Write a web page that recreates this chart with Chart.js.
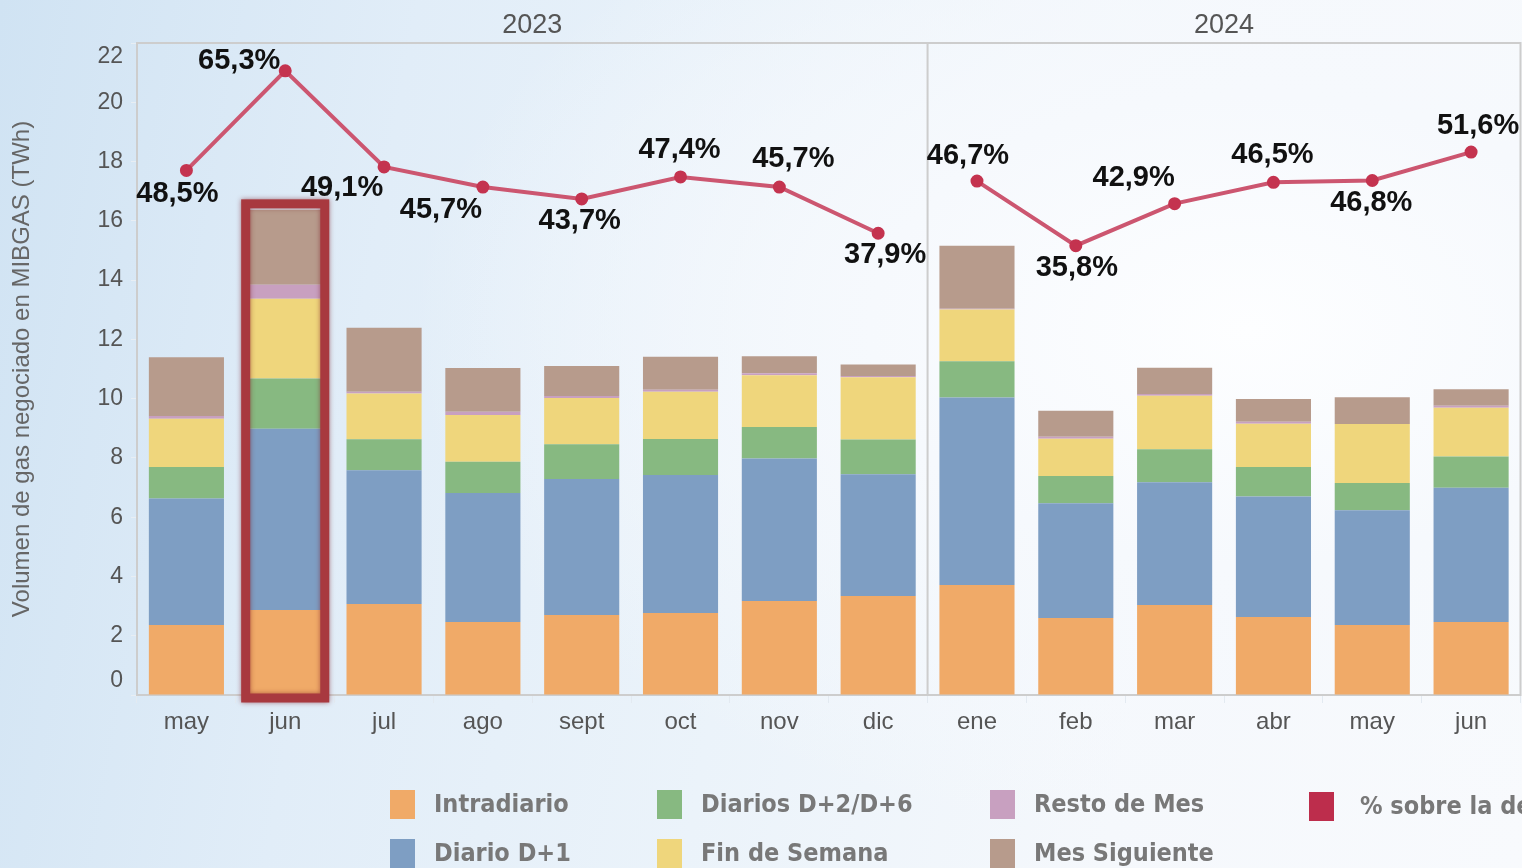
<!DOCTYPE html>
<html lang="es">
<head>
<meta charset="utf-8">
<title>Volumen negociado en MIBGAS</title>
<script src="https://cdn.jsdelivr.net/npm/chart.js@4.4.1/dist/chart.umd.min.js"></script>
<style>
  html, body { margin: 0; padding: 0; width: 1522px; height: 868px; overflow: hidden; }
  body {
    position: relative;
    background:
      radial-gradient(ellipse 55% 60% at 82% 38%, #fdfeff 0%, #f6f9fd 45%, rgba(240,246,252,0) 100%),
      linear-gradient(100deg, #d0e3f3 0%, #e1edf8 25%, #ebf3fa 50%, #f5f8fc 75%, #f8fafd 100%);
  }
  #grafico { position: absolute; left: 0; top: 0; }
  .leyenda { position: absolute; font-family: "DejaVu Sans Condensed", "DejaVu Sans", sans-serif;
             font-weight: bold; font-size: 25px; color: #787878; white-space: nowrap; }
  .leyenda span.cuadro { position: absolute; left: 0; width: 25px; height: 29px; }
  .leyenda span.texto { position: absolute; top: -1px; }
</style>
</head>
<body>
<!-- el lienzo es algo más ancho que la ventana: el gráfico original queda cortado a la derecha -->
<canvas id="grafico" width="1529" height="868"></canvas>
<div id="leyenda"></div>
<script>
// datos (TWh y %)
var meses = ['may', 'jun', 'jul', 'ago', 'sept', 'oct', 'nov', 'dic', 'ene', 'feb', 'mar', 'abr', 'may', 'jun'];
var intradiario  = [2.36, 2.87, 3.07, 2.46, 2.70, 2.77, 3.17, 3.34, 3.71, 2.60, 3.04, 2.63, 2.36, 2.46];
var diarioD1     = [4.27, 6.11, 4.51, 4.36, 4.59, 4.65, 4.81, 4.11, 6.33, 3.87, 4.14, 4.07, 3.87, 4.53];
var diariosD2D6  = [1.06, 1.70, 1.05, 1.05, 1.17, 1.22, 1.06, 1.17, 1.22, 0.92, 1.11, 0.99, 0.92, 1.06];
var finDeSemana  = [1.63, 2.69, 1.54, 1.58, 1.56, 1.59, 1.75, 2.10, 1.75, 1.26, 1.81, 1.46, 1.99, 1.64];
var restoDeMes   = [0.09, 0.47, 0.06, 0.11, 0.07, 0.07, 0.07, 0.04, 0.02, 0.06, 0.06, 0.07, 0.00, 0.07];
var mesSiguiente = [1.99, 2.53, 2.16, 1.47, 1.01, 1.11, 0.57, 0.39, 2.13, 0.88, 0.88, 0.77, 0.91, 0.56];
var porcentaje   = [48.5, 65.3, 49.1, 45.7, 43.7, 47.4, 45.7, 37.9, 46.7, 35.8, 42.9, 46.5, 46.8, 51.6];
var ticksY = [0, 2, 4, 6, 8, 10, 12, 14, 16, 18, 20, 22];
var anios = [{ texto: '2023', desde: 0, hasta: 7 }, { texto: '2024', desde: 8, hasta: 13 }];
var mesDestacado = 1;

// donde va cada etiqueta de % respecto a su punto
var posEtiquetas = [[-9, 24], [-46, -10], [-42, 21], [-42, 23], [-2, 22], [-1, -27], [14, -28],
                    [7, 22], [-9, -25], [1, 22], [-41, -26], [-1, -27], [-1, 22], [7, -26]];

var colores = {
    intradiario: '#f0aa68',
    d1: '#7e9ec3',
    d2: '#87b981',
    finde: '#efd67c',
    resto: '#c8a0c0',
    siguiente: '#b79b8c',
    linea: '#cc5670',
    punto: '#c4334f'
};

var gris = '#555';

function serieBarra(nombre, datos, color) {
    return {
        type: 'bar', label: nombre, data: datos, backgroundColor: color,
        yAxisID: 'y', stack: 'vol', order: 1,
        categoryPercentage: 1, barPercentage: 0.76
    };
}

var dibujos = {
    id: 'dibujos',
    beforeDatasetsDraw: function (chart) {
        var ctx = chart.ctx, a = chart.chartArea, x = chart.scales.x, y = chart.scales.y;
        ctx.save();
        ctx.strokeStyle = '#cdcdcd';
        ctx.lineWidth = 2;
        ctx.strokeRect(a.left, a.top, a.right - a.left, a.bottom - a.top);
        // separación entre años
        var medio = (x.getPixelForValue(7) + x.getPixelForValue(8)) / 2;
        ctx.beginPath();
        ctx.moveTo(medio, a.top);
        ctx.lineTo(medio, a.bottom);
        ctx.stroke();
        // años
        ctx.fillStyle = gris;
        ctx.font = '27px "Liberation Sans", Arial, sans-serif';
        ctx.textAlign = 'center';
        ctx.textBaseline = 'middle';
        var ancho = x.getPixelForValue(1) - x.getPixelForValue(0);
        anios.forEach(function (an) {
            var x0 = x.getPixelForValue(an.desde) - ancho / 2;
            var x1 = x.getPixelForValue(an.hasta) + ancho / 2;
            ctx.fillText(an.texto, (x0 + x1) / 2, 26);
        });
        // etiquetas eje Y (pegadas dentro en los extremos)
        ctx.font = '23px "Liberation Sans", Arial, sans-serif';
        ctx.textAlign = 'right';
        ticksY.forEach(function (t) {
            var py = y.getPixelForValue(t);
            py = Math.min(Math.max(py, a.top + 14), a.bottom - 14);
            ctx.fillText(String(t), a.left - 14, py);
        });
        ctx.restore();
    },
    afterDatasetsDraw: function (chart) {
        var ctx = chart.ctx;
        ctx.save();
        // recuadro del mes destacado
        var base = chart.getDatasetMeta(0).data[mesDestacado];
        var tope = chart.getDatasetMeta(5).data[mesDestacado];
        var w = base.width;
        ctx.strokeStyle = '#a8393f';
        ctx.lineWidth = 9;
        ctx.shadowColor = 'rgba(120,20,30,0.55)';
        ctx.shadowBlur = 5;
        ctx.strokeRect(base.x - w / 2 - 2, tope.y - 6, w + 4, chart.chartArea.bottom + 3 - (tope.y - 6));
        ctx.shadowBlur = 0;
        ctx.shadowColor = 'transparent';
        // etiquetas de porcentaje
        var meta = chart.getDatasetMeta(6);
        ctx.fillStyle = '#111';
        ctx.font = 'bold 29px "Liberation Sans", Arial, sans-serif';
        ctx.textAlign = 'center';
        ctx.textBaseline = 'middle';
        meta.data.forEach(function (p, i) {
            var txt = porcentaje[i].toFixed(1).replace('.', ',') + '%';
            ctx.fillText(txt, p.x + posEtiquetas[i][0], p.y + posEtiquetas[i][1]);
        });
        ctx.restore();
    }
};

new Chart(document.getElementById('grafico'), {
    data: {
        labels: meses,
        datasets: [
            serieBarra('Intradiario', intradiario, colores.intradiario),
            serieBarra('Diario D+1', diarioD1, colores.d1),
            serieBarra('Diarios D+2/D+6', diariosD2D6, colores.d2),
            serieBarra('Fin de Semana', finDeSemana, colores.finde),
            serieBarra('Resto de Mes', restoDeMes, colores.resto),
            serieBarra('Mes Siguiente', mesSiguiente, colores.siguiente),
            {
                type: 'line', label: '% sobre la demanda', data: porcentaje, yAxisID: 'y2', order: 0,
                borderColor: colores.linea, borderWidth: 4, pointRadius: 4.5,
                pointBackgroundColor: colores.punto, pointBorderColor: colores.punto,
                segment: {
                    borderColor: function (c) { return c.p0DataIndex === 7 ? 'rgba(0,0,0,0)' : colores.linea; }
                }
            }
        ]
    },
    options: {
        responsive: false,
        animation: false,
        layout: { padding: { top: 43, right: 2, left: 0, bottom: 0 } },
        plugins: { legend: { display: false }, tooltip: { enabled: false } },
        scales: {
            x: {
                stacked: true,
                afterFit: function (s) { s.height = 173; },
                border: { display: false },
                grid: { drawOnChartArea: false, tickLength: 8, color: '#e3eaf1' },
                ticks: { color: gris, padding: 5, font: { family: '"Liberation Sans", Arial, sans-serif', size: 24 } }
            },
            y: {
                stacked: true, min: 0, max: 22,
                afterFit: function (s) { s.width = 137; },
                border: { display: false },
                grid: { drawOnChartArea: false, tickLength: 6, color: '#e8eef4' },
                ticks: { stepSize: 2, display: false },
                title: {
                    display: true, text: 'Volumen de gas negociado en MIBGAS (TWh)', color: '#666',
                    padding: { top: 8, bottom: 0 },
                    font: { family: '"Liberation Sans", Arial, sans-serif', size: 24 }
                }
            },
            y2: { display: false, min: -40, max: 70 }
        }
    },
    plugins: [dibujos]
});

// leyenda (como en el original, se sale por la derecha)
var itemsLeyenda = [
    { texto: 'Intradiario', color: colores.intradiario, x: 390, y: 790 },
    { texto: 'Diario D+1', color: colores.d1, x: 390, y: 839 },
    { texto: 'Diarios D+2/D+6', color: colores.d2, x: 657, y: 790 },
    { texto: 'Fin de Semana', color: colores.finde, x: 657, y: 839 },
    { texto: 'Resto de Mes', color: colores.resto, x: 990, y: 790 },
    { texto: 'Mes Siguiente', color: colores.siguiente, x: 990, y: 839 },
    { texto: '% sobre la demanda', color: '#bd2d4c', x: 1309, y: 792 }
];
var cont = document.getElementById('leyenda');
itemsLeyenda.forEach(function (it) {
    var d = document.createElement('div');
    d.className = 'leyenda';
    d.style.left = it.x + 'px';
    d.style.top = it.y + 'px';
    d.innerHTML = '<span class="cuadro" style="background:' + it.color + '"></span>' +
        '<span class="texto" style="left:' + (it.x === 1309 ? 51 : 44) + 'px">' + it.texto + '</span>';
    cont.appendChild(d);
});
</script>
</body>
</html>
